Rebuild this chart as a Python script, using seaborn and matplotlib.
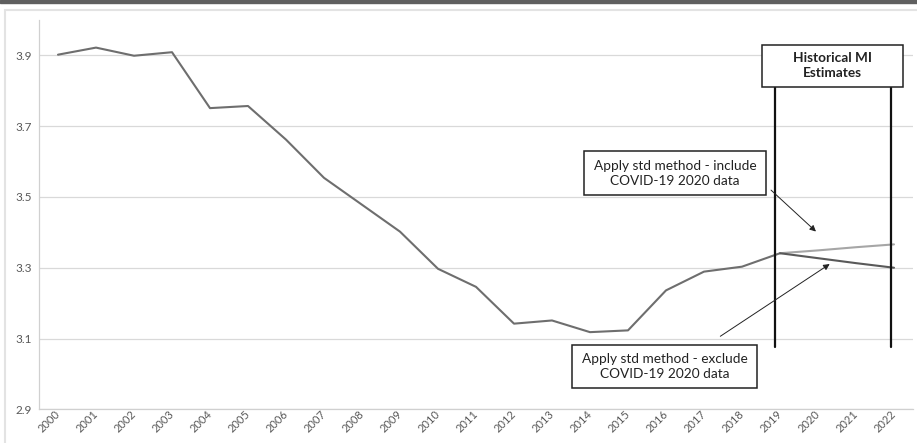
import matplotlib
matplotlib.use("Agg")
import matplotlib.pyplot as plt
import seaborn as sns
import pandas as pd
from matplotlib.patches import Rectangle

years = [str(y) for y in range(2000, 2023)]
hist_years = list(range(2000, 2020))
hist_values = [3.902, 3.922, 3.899, 3.909, 3.751, 3.757, 3.662, 3.554, 3.478, 3.402,
               3.297, 3.246, 3.142, 3.151, 3.118, 3.123, 3.236, 3.289, 3.303, 3.341]
proj_years = [2019, 2020, 2021, 2022]
include_values = [3.341, 3.349, 3.358, 3.366]
exclude_values = [3.341, 3.327, 3.313, 3.300]
yticks = [2.9, 3.1, 3.3, 3.5, 3.7, 3.9]

sns.set_theme(style="white")
plt.rcParams['font.family'] = ['Lato', 'DejaVu Sans']

df = pd.DataFrame({
    "idx": [y - 2000 for y in hist_years] + [y - 2000 for y in proj_years] * 2,
    "value": hist_values + include_values + exclude_values,
    "series": ["hist"] * len(hist_values) + ["incl"] * 4 + ["excl"] * 4,
})

fig = plt.figure(figsize=(9.17, 4.43), dpi=100)
# top dark bar and light frame
fig.patches.append(Rectangle((0, 1 - 3 / 443), 1, 3 / 443, transform=fig.transFigure,
                             color="#5f5f5f", zorder=0))
fig.patches.append(Rectangle((5 / 917, -0.05), 1.1, 1 - 10 / 443 + 0.05, transform=fig.transFigure,
                             fill=False, edgecolor="#e3e3e3", linewidth=1.5, zorder=0))

ax = fig.add_axes([39 / 917, 33.7 / 443, (913 - 39) / 917, (409.3 - 20) / 443])
palette = {"hist": "#6e6e6e", "incl": "#a6a6a6", "excl": "#595959"}
sns.lineplot(data=df, x="idx", y="value", hue="series", palette=palette, ax=ax,
             legend=False, linewidth=1.5, estimator=None, sort=False)

ax.set_xlim(-0.5, 22.5)
ax.set_ylim(2.9, 4.0)
ax.set_yticks(yticks)
ax.set_yticklabels([f"{v:.1f}" for v in yticks], fontsize=8.5, color="#595959")
ax.set_xticks(range(len(years)))
ax.set_xticklabels(years, rotation=45, fontsize=8, color="#595959")
ax.set_xticks([i - 0.5 for i in range(len(years) + 1)], minor=True)
ax.tick_params(axis="x", which="major", length=0, pad=2)
ax.tick_params(axis="x", which="minor", length=4, color="#d0d0d0", width=0.8, direction="out")
ax.tick_params(axis="y", length=0, pad=5)
for lbl in ax.get_xticklabels():
    lbl.set_ha("right")
    lbl.set_rotation_mode("anchor")
    lbl.set_va("center")
ax.grid(axis="y", color="#d9d9d9", linewidth=0.9)
ax.set_axisbelow(True)
for s in ["top", "right"]:
    ax.spines[s].set_visible(False)
ax.spines["left"].set_color("#d0d0d0")
ax.spines["bottom"].set_color("#d0d0d0")
ax.spines["left"].set_linewidth(0.9)
ax.spines["bottom"].set_linewidth(0.9)
ax.set_xlabel("")
ax.set_ylabel("")

# vertical markers
ax.plot([18.87, 18.87], [3.075, 3.81], color="#111111", linewidth=1.6, zorder=5)
ax.plot([21.92, 21.92], [3.075, 3.81], color="#111111", linewidth=1.6, zorder=5)

def px2data(px, py):
    return ((px - 58) / 38.0, 3.9 + (55.7 - py) / 352.5)

def box(x0, y0, x1, y1, text, bold=False):
    dx0, dy1 = px2data(x0, y1)
    dx1, dy0 = px2data(x1, y0)
    ax.add_patch(Rectangle((dx0, dy1), dx1 - dx0, dy0 - dy1, facecolor="white",
                           edgecolor="#222222", linewidth=1.1, zorder=6, clip_on=False))
    ax.text((dx0 + dx1) / 2, (dy0 + dy1) / 2, text, ha="center", va="center",
            fontsize=9.8, fontweight="bold" if bold else "normal", color="#222222",
            zorder=7, linespacing=1.3)

box(762, 45, 903, 87, "Historical MI\nEstimates", bold=True)
box(584, 151, 766, 195, "Apply std method - include\nCOVID-19 2020 data")
box(572, 344, 757, 387, "Apply std method - exclude\nCOVID-19 2020 data")

ax.annotate("", xy=px2data(818, 233), xytext=px2data(769, 188),
            arrowprops=dict(arrowstyle="-|>", color="#222222", lw=0.7, mutation_scale=9), zorder=8)
ax.annotate("", xy=px2data(832, 262), xytext=px2data(718, 337),
            arrowprops=dict(arrowstyle="-|>", color="#222222", lw=0.7, mutation_scale=9), zorder=8)

fig.savefig("out.png", dpi=100)
